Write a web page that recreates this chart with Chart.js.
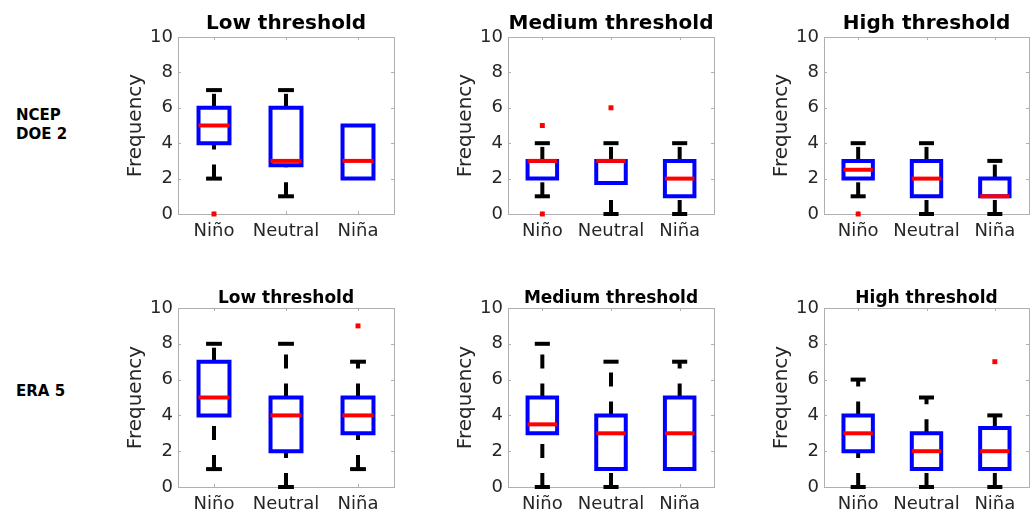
<!DOCTYPE html>
<html>
<head>
<meta charset="utf-8">
<script src="https://cdn.jsdelivr.net/npm/chart.js@4"></script>
<style>
body { margin: 0; background: #fff; overflow: hidden; }
#wrap { position: relative; width: 1033px; height: 514px; }
#wrap canvas { position: absolute; }
.rowlab { position: absolute; left: 16px; font: bold 15px "DejaVu Sans"; color: #000; line-height: 19px; }
</style>
</head>
<body>
<div id="wrap">
  <div class="rowlab" style="top:106px">NCEP<br>DOE 2</div>
  <div class="rowlab" style="top:382px">ERA 5</div>
</div>
<script>
var groups = ["Niño", "Neutral", "Niña"];
var yTicks = [0, 2, 4, 6, 8, 10];
var titles = ["Low threshold", "Medium threshold", "High threshold"];

// box stats per group: [lower whisker, q1, median, q3, upper whisker]
var ncepLow = [[2, 4, 5, 6, 7], [1, 2.75, 3, 6, 7], [2, 2, 3, 5, 5]];
var ncepLowOut = [[0], [], []];
var ncepMed = [[1, 2, 3, 3, 4], [0, 1.75, 3, 3, 4], [0, 1, 2, 3, 4]];
var ncepMedOut = [[5, 0], [6], []];
var ncepHigh = [[1, 2, 2.5, 3, 4], [0, 1, 2, 3, 4], [0, 1, 1, 2, 3]];
var ncepHighOut = [[0], [], []];

var eraLow = [[1, 4, 5, 7, 8], [0, 2, 4, 5, 8], [1, 3, 4, 5, 7]];
var eraLowOut = [[], [], [9]];
var eraMed = [[0, 3, 3.5, 5, 8], [0, 1, 3, 4, 7], [1, 1, 3, 5, 7]];
var eraMedOut = [[], [], []];
var eraHigh = [[0, 2, 3, 4, 6], [0, 1, 2, 3, 5], [0, 1, 2, 3.3, 4]];
var eraHighOut = [[], [], [7]];

// layout of the grid (pixels)
var cols = [{ left: 178, w: 216 }, { left: 508, w: 206 }, { left: 824, w: 205 }];
var rowsLayout = [
  { top: 0, pad: 37, h: 177, xh: 40, tFont: 20, tBase: 29, stats: [ncepLow, ncepMed, ncepHigh], outs: [ncepLowOut, ncepMedOut, ncepHighOut] },
  { top: 268, pad: 40, h: 179, xh: 26, tFont: 17, tBase: 35, stats: [eraLow, eraMed, eraHigh], outs: [eraLowOut, eraMedOut, eraHighOut] }
];

var boxHalf = 0.215, capHalf = 0.11;
var axisGray = "#b0b0b0";
var textCol = "#262626";

function seg(pts, color, dash, order) {
  return {
    data: pts, showLine: true, pointRadius: 0, borderColor: color, borderWidth: 4,
    borderDash: dash || [], order: order, clip: false, borderJoinStyle: "miter", borderCapStyle: "butt"
  };
}

function buildSets(stats, outs) {
  var sets = [];
  var outPts = [];
  stats.forEach(function (s, i) {
    var x = i + 1;
    var lo = s[0], q1 = s[1], med = s[2], q3 = s[3], hi = s[4];
    if (lo < q1) {
      sets.push(seg([{ x: x, y: lo }, { x: x, y: q1 }], "#000", [14, 15], 3));
      sets.push(seg([{ x: x - capHalf, y: lo }, { x: x + capHalf, y: lo }], "#000", null, 3));
    }
    if (hi > q3) {
      sets.push(seg([{ x: x, y: q3 }, { x: x, y: hi }], "#000", [14, 15], 3));
      sets.push(seg([{ x: x - capHalf, y: hi }, { x: x + capHalf, y: hi }], "#000", null, 3));
    }
    sets.push(seg([
      { x: x - boxHalf, y: q1 }, { x: x + boxHalf, y: q1 }, { x: x + boxHalf, y: q3 },
      { x: x - boxHalf, y: q3 }, { x: x - boxHalf, y: q1 }, { x: x + boxHalf, y: q1 }
    ], "#0000ff", null, 2));
    sets.push(seg([{ x: x - boxHalf, y: med }, { x: x + boxHalf, y: med }], "#ff0000", null, 1));
    outs[i].forEach(function (v) { outPts.push({ x: x, y: v }); });
  });
  sets.push({
    data: outPts, showLine: false, pointStyle: "rect", pointRadius: 3.5,
    pointBackgroundColor: "#ff0000", pointBorderColor: "#ff0000", pointBorderWidth: 0, order: 0, clip: false
  });
  return sets;
}

// frame with inward ticks, like the original axes box
var framePlugin = {
  id: "frame",
  beforeDatasetsDraw: function (chart) {
    var a = chart.chartArea, ctx = chart.ctx;
    var xs = chart.scales.x, ys = chart.scales.y;
    ctx.save();
    ctx.strokeStyle = axisGray;
    ctx.lineWidth = 1;
    ctx.strokeRect(Math.round(a.left) + 0.5, Math.round(a.top) + 0.5, Math.round(a.right - a.left), Math.round(a.bottom - a.top));
    ctx.beginPath();
    yTicks.forEach(function (v) {
      var py = Math.round(ys.getPixelForValue(v)) + 0.5;
      ctx.moveTo(a.left, py); ctx.lineTo(a.left + 3, py);
      ctx.moveTo(a.right, py); ctx.lineTo(a.right - 3, py);
    });
    groups.forEach(function (g, i) {
      var px = Math.round(xs.getPixelForValue(i + 1)) + 0.5;
      ctx.moveTo(px, a.bottom); ctx.lineTo(px, a.bottom - 3);
      ctx.moveTo(px, a.top); ctx.lineTo(px, a.top + 3);
    });
    ctx.stroke();
    ctx.restore();
  }
};

var titlePlugin = {
  id: "panelTitle",
  afterDraw: function (chart, args, opts) {
    var a = chart.chartArea, ctx = chart.ctx;
    ctx.save();
    ctx.font = "bold " + opts.size + "px 'DejaVu Sans'";
    ctx.fillStyle = "#000";
    ctx.textAlign = "center";
    ctx.textBaseline = "alphabetic";
    ctx.fillText(opts.text, (a.left + a.right) / 2, opts.base);
    ctx.restore();
  }
};

var wrap = document.getElementById("wrap");
var yAxisW = 60, rightPad = 6;

rowsLayout.forEach(function (r) {
  cols.forEach(function (c, j) {
    var cv = document.createElement("canvas");
    var cw = yAxisW + c.w + rightPad;
    var chH = r.pad + r.h + r.xh;
    cv.style.left = (c.left - yAxisW) + "px";
    cv.style.top = r.top + "px";
    cv.style.width = cw + "px";
    cv.style.height = chH + "px";
    cv.width = cw; cv.height = chH;
    wrap.appendChild(cv);

    new Chart(cv, {
      type: "scatter",
      data: { datasets: buildSets(r.stats[j], r.outs[j]) },
      plugins: [framePlugin, titlePlugin],
      options: {
        responsive: false,
        animation: false,
        events: [],
        layout: { padding: { top: r.pad, right: rightPad, left: 0, bottom: 0 } },
        plugins: {
          legend: { display: false },
          tooltip: { enabled: false },
          panelTitle: { text: titles[j], size: r.tFont, base: r.tBase }
        },
        scales: {
          x: {
            type: "linear", min: 0.5, max: 3.5,
            grid: { display: false, drawTicks: false },
            border: { display: false },
            afterBuildTicks: function (s) { s.ticks = groups.map(function (g, i) { return { value: i + 1 }; }); },
            afterFit: function (s) { s.height = r.xh; },
            ticks: {
              padding: 7, color: textCol, maxRotation: 0, autoSkip: false,
              font: { family: "DejaVu Sans", size: 18 },
              callback: function (v) { return groups[Math.round(v) - 1]; }
            }
          },
          y: {
            min: 0, max: 10,
            grid: { display: false, drawTicks: false },
            border: { display: false },
            afterBuildTicks: function (s) { s.ticks = yTicks.map(function (v) { return { value: v }; }); },
            afterFit: function (s) { s.width = yAxisW; },
            ticks: { padding: 5, color: textCol, font: { family: "DejaVu Sans", size: 18 } },
            title: {
              display: true, text: "Frequency", color: textCol,
              font: { family: "DejaVu Sans", size: 20 }, padding: { top: 6, bottom: 0 }
            }
          }
        }
      }
    });
  });
});
</script>
</body>
</html>
